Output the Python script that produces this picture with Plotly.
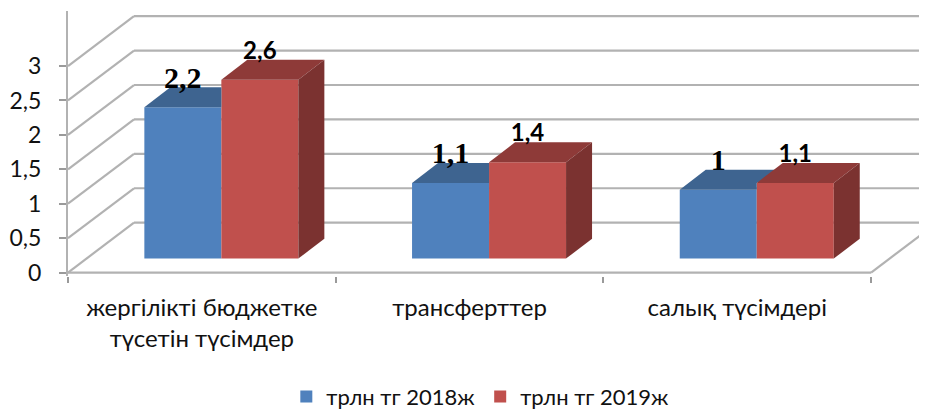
import plotly.graph_objects as go

categories = ["жергілікті бюджетке<br>түсетін түсімдер", "трансферттер", "салық түсімдері"]
values_2018 = [2.2, 1.1, 1.0]
values_2019 = [2.6, 1.4, 1.1]
labels_2018 = ["2,2", "1,1", "1"]
labels_2019 = ["2,6", "1,4", "1,1"]
series_names = ["трлн тг 2018ж", "трлн тг 2019ж"]
y_ticks = [0, 0.5, 1, 1.5, 2, 2.5, 3]
y_ticktext = ["0", "0,5", "1", "1,5", "2", "2,5", "3"]

# Oblique projection constants (data units; 1 category = 267.7 px, 1 value = 69 px)
PX_X, PX_Y = 267.7, 69.0
WALL_DX, WALL_DY = 66 / PX_X, 50 / PX_Y
BAR_DX, BAR_DY = 26 / PX_X, 20 / PX_Y
BAR_W = 77 / PX_X
BAR_BASE = 14 / PX_Y
GROUP_SHIFT = 19.5 / PX_X
LABEL_UP = 27 / PX_Y
X_MAX = -0.5 + 859 / PX_X
GRID = "#b2b2b2"
BLUE, BLUE_TOP = "#4f81bd", "#3e6490"
RED, RED_TOP, RED_SIDE = "#c0504d", "#8e3a38", "#7b3230"
TXT = "#111111"
FONT = "Lato, 'Open Sans', sans-serif"

fig = go.Figure()
xs = list(range(len(categories)))
x_blue = [i + GROUP_SHIFT - BAR_W / 2 for i in xs]
x_red = [i + GROUP_SHIFT + BAR_W / 2 for i in xs]

fig.add_bar(x=x_blue, y=values_2018, base=BAR_BASE, width=BAR_W, marker_color=BLUE,
            marker_line_width=0, name=series_names[0])
fig.add_bar(x=x_red, y=values_2019, base=BAR_BASE, width=BAR_W, marker_color=RED,
            marker_line_width=0, name=series_names[1])

def poly(xv, yv, color):
    fig.add_scatter(x=xv + xv[:1], y=yv + yv[:1], mode="lines", fill="toself", fillcolor=color,
                    line=dict(width=0, color=color), showlegend=False, hoverinfo="skip")

for xb, xr, vb, vr in zip(x_blue, x_red, values_2018, values_2019):
    tb, tr = vb + BAR_BASE, vr + BAR_BASE
    l, m, r = xb - BAR_W / 2, xb + BAR_W / 2, xr + BAR_W / 2
    back_b = tb + BAR_DY
    if back_b > tr:
        poly([l, m, m, m + BAR_DX, l + BAR_DX], [tb, tb, tr, back_b, back_b], BLUE_TOP)
    else:
        poly([l, m, m, l + BAR_DX], [tb, tb, back_b, back_b], BLUE_TOP)
    poly([m, r, r + BAR_DX, m + BAR_DX], [tr, tr, tr + BAR_DY, tr + BAR_DY], RED_TOP)
    poly([r, r + BAR_DX, r + BAR_DX, r],
         [BAR_BASE, BAR_BASE + BAR_DY, tr + BAR_DY, tr], RED_SIDE)

fig.add_scatter(x=x_blue, y=[v + BAR_BASE + LABEL_UP for v in values_2018], text=labels_2018,
                mode="text", textposition="middle center", showlegend=False, hoverinfo="skip",
                textfont=dict(family="'Liberation Serif', serif", size=30, color="black", weight="bold"))
fig.add_scatter(x=x_red, y=[v + BAR_BASE + LABEL_UP for v in values_2019], text=labels_2019,
                mode="text", textposition="middle center", showlegend=False, hoverinfo="skip",
                textfont=dict(family=FONT, size=24, color="black", weight="bold"))

shapes = []
def seg(x0, y0, x1, y1):
    shapes.append(dict(type="line", xref="x", yref="y", x0=x0, y0=y0, x1=x1, y1=y1,
                       layer="below", line=dict(color=GRID, width=2.2)))

for v in y_ticks:
    seg(-0.5, v, -0.5 + WALL_DX, v + WALL_DY)
    seg(-0.5 + WALL_DX, v + WALL_DY, X_MAX, v + WALL_DY)
seg(-0.5, 0, 2.5, 0)
seg(2.5, 0, 2.5 + WALL_DX, WALL_DY)

# The page has an 8 px body margin, so the canvas is smaller and the margins shifted.
fig.update_layout(
    width=919, height=404, paper_bgcolor="white", plot_bgcolor="white",
    margin=dict(l=60, r=0, t=2.8, b=135.55, autoexpand=False),
    barmode="overlay", separators=", ", shapes=shapes, showlegend=True,
    font=dict(family=FONT, color=TXT),
    legend=dict(orientation="h", x=0.48, xanchor="center", y=-0.455, yanchor="middle",
                font=dict(size=22, color=TXT), itemclick=False, itemdoubleclick=False),
    xaxis=dict(range=[-0.5, X_MAX], tickvals=xs, ticktext=categories, showgrid=False, zeroline=False,
               ticks="", showline=False, tickfont=dict(size=24, color=TXT), ticklabelstandoff=15,
               minor=dict(tickvals=[-0.5, 0.5, 1.5, 2.5], ticks="outside", ticklen=6,
                          tickcolor="#9a9a9a", tickwidth=1.5, showgrid=False)),
    yaxis=dict(range=[-0.05, 3.8], tickvals=y_ticks, ticktext=y_ticktext, showgrid=False, zeroline=False,
               ticks="outside", ticklen=7, tickcolor="#9a9a9a", tickwidth=1.5,
               showline=True, linecolor=GRID, linewidth=2,
               tickfont=dict(size=23, color=TXT), ticklabelstandoff=13),
)
fig.write_html("out.html")
